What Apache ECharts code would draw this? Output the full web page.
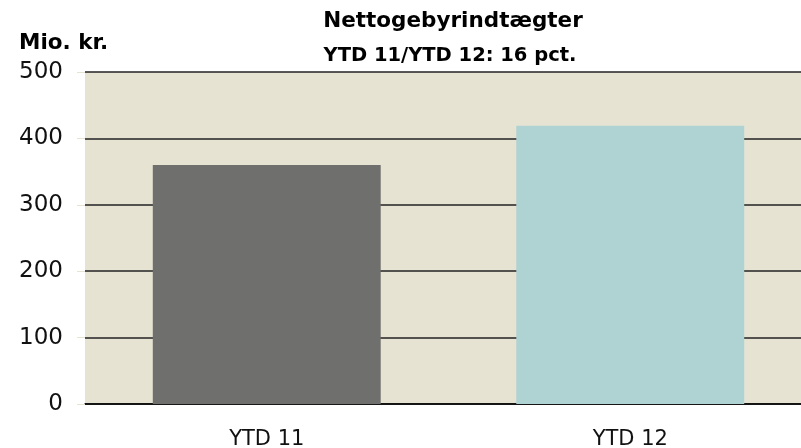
<!DOCTYPE html>
<html>
<head>
<meta charset="utf-8">
<script src="https://cdn.jsdelivr.net/npm/echarts@6/dist/echarts.min.js"></script>
<style>
  html, body { margin: 0; padding: 0; background: #fff; }
  #chart { width: 801px; height: 448px; }
</style>
</head>
<body>
<div id="chart"></div>
<script>
// data
const categories = ['YTD 11', 'YTD 12'];
const values = [360, 419];
const barColors = ['#6f706e', '#afd2d2'];

const chart = echarts.init(document.getElementById('chart'));

chart.setOption({
    animation: false,
    textStyle: { fontFamily: 'DejaVu Sans' },
    title: [
        {
            text: 'Nettogebyrindtægter',
            left: 448, top: 5, textAlign: 'center',
            textStyle: { fontSize: 21.5, fontWeight: 'bold', color: '#000' }
        },
        {
            text: 'YTD 11/YTD 12: 16 pct.',
            left: 445, top: 41, textAlign: 'center',
            textStyle: { fontSize: 19.5, fontWeight: 'bold', color: '#000' }
        },
        {
            text: 'Mio. kr.',
            left: 14, top: 27,
            textStyle: { fontSize: 21.5, fontWeight: 'bold', color: '#000' }
        }
    ],
    // the plot runs past the right edge of the picture (it is cropped)
    grid: {
        left: 85, right: -11, top: 72, bottom: 44,
        outerBoundsMode: 'none',
        containLabel: false,
        show: true, backgroundColor: '#e6e3d3', borderWidth: 0
    },
    xAxis: {
        type: 'category',
        data: categories,
        axisLine: { lineStyle: { color: '#000', width: 1.5 } },
        axisTick: { show: false },
        axisLabel: { fontSize: 21, color: '#111', margin: 25 }
    },
    yAxis: {
        type: 'value',
        min: 0, max: 500, interval: 100,
        axisLine: { show: false },
        axisTick: { show: true, length: 8, lineStyle: { color: '#e6e3d3' } },
        axisLabel: { fontSize: 23, color: '#111', margin: 22, padding: [7, 0, 0, 0] },
        splitLine: { lineStyle: { color: '#222', width: 1.5 } }
    },
    series: [{
        type: 'bar',
        data: values.map((v, i) => ({ value: v, itemStyle: { color: barColors[i] } })),
        barWidth: '62.7%'
    }]
});
</script>
</body>
</html>
